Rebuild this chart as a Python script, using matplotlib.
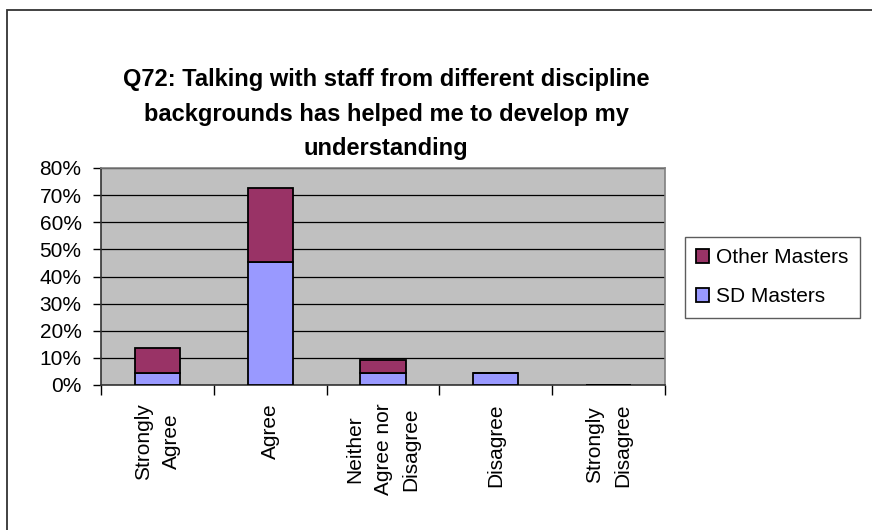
import numpy as np
import matplotlib.pyplot as plt
from matplotlib.patches import Rectangle

plt.rcParams['font.family'] = ['Liberation Sans', 'DejaVu Sans']

# Survey responses (counts out of 22 respondents)
categories = ['Strongly\nAgree', 'Agree', 'Neither\nAgree nor\nDisagree', 'Disagree', 'Strongly\nDisagree']
sd_masters = [1, 10, 1, 1, 0]
other_masters = [2, 6, 1, 0, 0]
n_total = 22

sd_pct = np.array(sd_masters) / n_total
other_pct = np.array(other_masters) / n_total

W, H = 872, 530
fig = plt.figure(figsize=(W / 100, H / 100), dpi=100)

# Outer chart border
fig.patches.append(Rectangle((7 / W, -0.1), 1.2, 1.1 - 10 / H, transform=fig.transFigure,
                             fill=False, edgecolor='#333333', linewidth=1.3))

# Plot area in pixels: left 101, right 665, top 168, bottom 385
ax = fig.add_axes([101 / W, 1 - 385 / H, (665 - 101) / W, (385 - 168) / H])
ax.set_facecolor('#C0C0C0')

x = np.arange(len(categories))
ax.bar(x, sd_pct, width=0.4, color='#9999FF', edgecolor='black', linewidth=1.3,
       label='SD Masters', zorder=3)
ax.bar(x, other_pct, width=0.4, bottom=sd_pct, color='#993366', edgecolor='black',
       linewidth=1.3, label='Other Masters', zorder=3)

ax.set_xlim(-0.5, len(categories) - 0.5)
ax.set_ylim(0, 0.8)
yt = np.arange(0, 0.81, 0.1)
ax.set_yticks(yt)
ax.set_yticklabels([f'{int(round(v * 100))}%' for v in yt], fontsize=15)
ax.yaxis.grid(True, color='black', linewidth=0.9, zorder=1)
ax.tick_params(axis='y', direction='out', length=6, width=1, pad=8)

# Category ticks sit on the boundaries, labels in the middle
ax.set_xticks(np.arange(-0.5, len(categories)))
ax.set_xticklabels([])
ax.set_xticks(x, minor=True)
xlabels = ax.set_xticklabels(categories, minor=True, rotation=90, fontsize=15,
                             ha='center', va='top', multialignment='center')
for lbl in xlabels:
    lbl.set_linespacing(1.6)
ax.tick_params(axis='x', which='major', direction='out', length=7, width=1)
ax.tick_params(axis='x', which='minor', length=0, pad=13)

for side in ['left', 'bottom']:
    ax.spines[side].set_color('#333333')
    ax.spines[side].set_linewidth(1.2)
for side in ['right', 'top']:
    ax.spines[side].set_color('#808080')
    ax.spines[side].set_linewidth(1.2)

fig.text(386 / W, 1 - 114 / H,
         'Q72: Talking with staff from different discipline\n'
         'backgrounds has helped me to develop my\nunderstanding',
         ha='center', va='center', fontsize=17, fontweight='bold', linespacing=1.65)

handles, labels = ax.get_legend_handles_labels()
leg = fig.legend(handles[::-1], labels[::-1], loc='upper left',
                 bbox_to_anchor=(685 / W, 1 - 237 / H), fontsize=15,
                 frameon=True, fancybox=False, edgecolor='#333333',
                 handlelength=0.6, handleheight=0.6, handletextpad=0.35,
                 labelspacing=0.95, borderpad=0.55, borderaxespad=0)
leg.get_frame().set_linewidth(1)

fig.savefig('out.png', dpi=100)
